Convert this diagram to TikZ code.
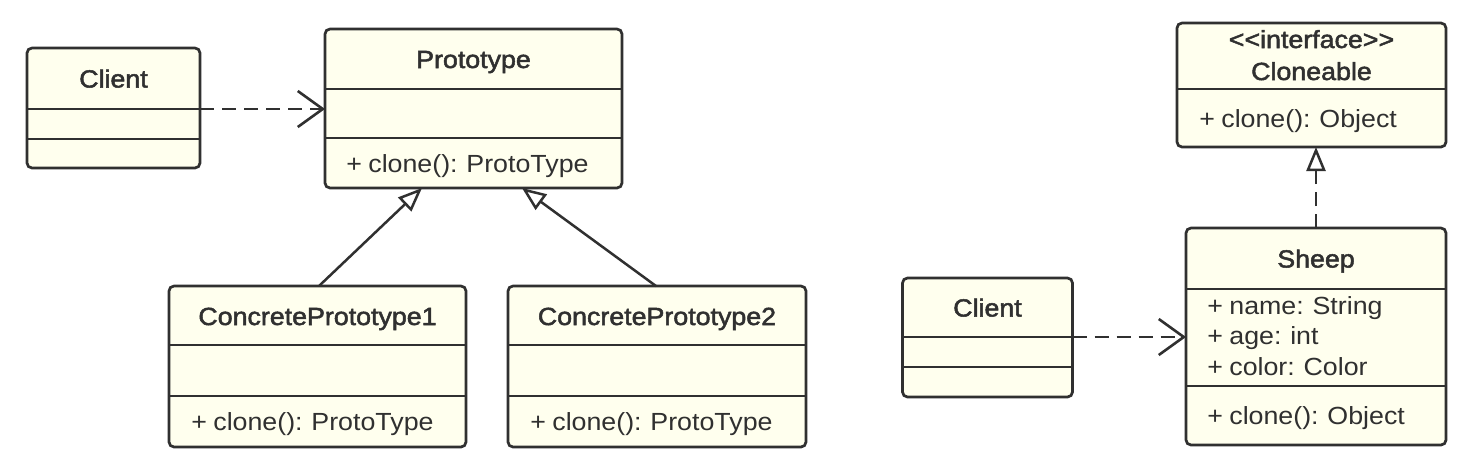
\documentclass[tikz,border=0pt]{standalone}
\usepackage{fontspec}
\setmainfont{Liberation Sans}[FakeStretch=1.08,WordSpace=0.85]
\newfontfamily\titlefont{Liberation Sans}[FakeStretch=1.08,FakeBold=2]
\usetikzlibrary{arrows.meta}
\definecolor{boxfill}{HTML}{FFFFEE}
\definecolor{ink}{HTML}{303030}
\tikzset{
  classbox/.style={draw=ink, fill=boxfill, line width=1.35pt, rounded corners=2.5pt, outer sep=0pt, inner sep=0pt},
  sepline/.style={draw=ink, line width=1.3pt},
  title/.style={anchor=base, inner sep=0pt, font=\titlefont\fontsize{12.4}{14}\selectfont},
  member/.style={anchor=base west, inner sep=0pt},
  dep/.style={draw=ink, line width=1.3pt, dash pattern=on 7pt off 4pt, -{Straight Barb[length=12.5pt, width=18pt]}},
  gen/.style={draw=ink, line width=1.25pt, -{Triangle[open, length=12pt, width=9.5pt]}},
  real/.style={gen, dash pattern=on 7pt off 4pt},
}
\begin{document}
\begin{tikzpicture}[x=0.5pt, y=-0.5pt, font=\fontsize{12.4}{14}\selectfont, text=ink]
\useasboundingbox (0,0) rectangle (1484,468);
\fill[white] (0,0) rectangle (1484,468);

% Left diagram
\node[classbox, minimum width=86.5pt, minimum height=60pt] (client1) at (113.5,108) {};
\draw[sepline] (client1.west |- 0,109) -- (client1.east |- 0,109);
\draw[sepline] (client1.west |- 0,139) -- (client1.east |- 0,139);
\node[title] (client1t) at (113.5,87.5) {Client};

\node[classbox, minimum width=148.5pt, minimum height=79.5pt] (proto) at (473.5,108.5) {};
\draw[sepline] (proto.west |- 0,89) -- (proto.east |- 0,89);
\draw[sepline] (proto.west |- 0,138) -- (proto.east |- 0,138);
\node[title] (protot) at (473.5,68) {Prototype};
\node[member] (protom) at (346,172) {+ clone(): ProtoType};

\node[classbox, minimum width=148.5pt, minimum height=80.5pt] (cp1) at (317.5,366.5) {};
\draw[sepline] (cp1.west |- 0,345) -- (cp1.east |- 0,345);
\draw[sepline] (cp1.west |- 0,396) -- (cp1.east |- 0,396);
\node[title] (cp1t) at (317.5,325) {ConcretePrototype1};
\node[member] (cp1m) at (191,430.5) {+ clone(): ProtoType};

\node[classbox, minimum width=149pt, minimum height=80.5pt] (cp2) at (657,366.5) {};
\draw[sepline] (cp2.west |- 0,345) -- (cp2.east |- 0,345);
\draw[sepline] (cp2.west |- 0,396) -- (cp2.east |- 0,396);
\node[title] (cp2t) at (657,325) {ConcretePrototype2};
\node[member] (cp2m) at (530,430.5) {+ clone(): ProtoType};

\draw[dep] (client1.east |- 0,109) -- (proto.west |- 0,109);
\draw[gen] (cp1.north -| 319,0) -- (proto.south -| 422,0);
\draw[gen] (cp2.north -| 656,0) -- (proto.south -| 522,0);

% Right diagram
\node[classbox, minimum width=134.5pt, minimum height=62pt] (clone) at (1311.5,85) {};
\draw[sepline] (clone.west |- 0,89) -- (clone.east |- 0,89);
\node[title] (clonet1) at (1311.5,48) {<<interface>>};
\node[title] (clonet2) at (1311.5,80) {Cloneable};
\node[member] (clonem) at (1199,127) {+ clone(): Object};

\node[classbox, minimum width=130pt, minimum height=108.5pt] (sheep) at (1316,336.5) {};
\draw[sepline] (sheep.west |- 0,289) -- (sheep.east |- 0,289);
\draw[sepline] (sheep.west |- 0,386) -- (sheep.east |- 0,386);
\node[title] (sheept) at (1316,267.5) {Sheep};
\node[member] (sheepa1) at (1207,314) {+ name: String};
\node[member] (sheepa2) at (1207,344.5) {+ age: int};
\node[member] (sheepa3) at (1207,375) {+ color: Color};
\node[member] (sheepm) at (1207,424.5) {+ clone(): Object};

\node[classbox, minimum width=85pt, minimum height=59.5pt] (client2) at (987.5,337.5) {};
\draw[sepline] (client2.west |- 0,337) -- (client2.east |- 0,337);
\draw[sepline] (client2.west |- 0,367) -- (client2.east |- 0,367);
\node[title] (client2t) at (987.5,316.5) {Client};

\draw[real] (sheep.north) -- (clone.south -| sheep.north);
\draw[dep] (client2.east |- 0,337) -- (sheep.west |- 0,337);
\end{tikzpicture}
\end{document}
